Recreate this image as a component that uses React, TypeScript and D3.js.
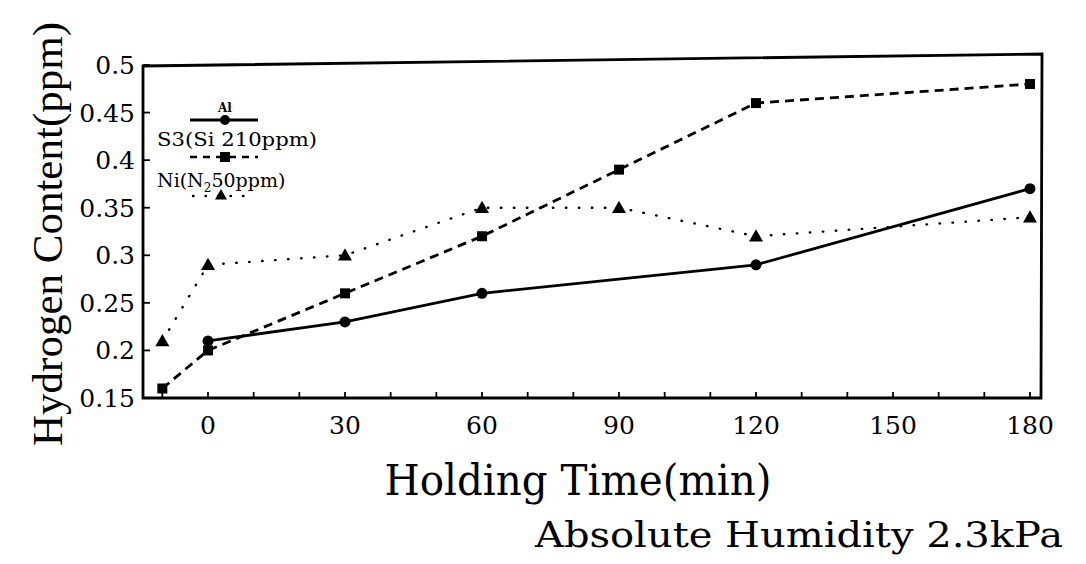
import React from "react";
import * as d3 from "d3";

const timesAl = [0, 30, 60, 120, 180];
const valuesAl = [0.21, 0.23, 0.26, 0.29, 0.37];
const timesS3 = [-10, 0, 30, 60, 90, 120, 180];
const valuesS3 = [0.16, 0.2, 0.26, 0.32, 0.39, 0.46, 0.48];
const timesNi = [-10, 0, 30, 60, 90, 120, 180];
const valuesNi = [0.21, 0.29, 0.3, 0.35, 0.35, 0.32, 0.34];
const xTickValues = [0, 30, 60, 90, 120, 150, 180];
const yTickValues = [0.15, 0.2, 0.25, 0.3, 0.35, 0.4, 0.45, 0.5];
const yTickLabels = ["0.15", "0.2", "0.25", "0.3", "0.35", "0.4", "0.45", "0.5"];

const FONT = "'DejaVu Serif', 'Liberation Serif', serif";
const FONT2 = "'Liberation Serif', 'DejaVu Serif', serif";

export default function App() {
  const left = 143, right = 1041, bottom = 398;
  const x = d3.scaleLinear().domain([0, 180]).range([208, 1030]);
  const y = d3.scaleLinear().domain([0.15, 0.5]).range([bottom, 65]);
  const line = d3.line<[number, number]>().x(d => x(d[0])).y(d => y(d[1]));
  const al: [number, number][] = timesAl.map((t, i) => [t, valuesAl[i]]);
  const s3: [number, number][] = timesS3.map((t, i) => [t, valuesS3[i]]);
  const ni: [number, number][] = timesNi.map((t, i) => [t, valuesNi[i]]);
  const minor = d3.range(-10, 181, 10);
  const tri = (cx: number, cy: number, s = 7) =>
    `M${cx},${cy - s} L${cx + s},${cy + s * 0.75} L${cx - s},${cy + s * 0.75} Z`;

  return (
    <svg width={1086} height={564} style={{ display: "block", position: "absolute", left: 0, top: 0 }}>
      <rect width={1086} height={564} fill="#fff" />
      {/* frame (slightly skewed top edge as in the scan) */}
      <path d={`M${left},${bottom} L${left},66 L${right + 1},54 L${right},${bottom} Z`} fill="none" stroke="#000" strokeWidth={2.8} />
      {/* x ticks */}
      {minor.map(t => (
        <line key={"xt" + t} x1={x(t)} x2={x(t)} y1={bottom} y2={bottom - 6} stroke="#000" strokeWidth={1.8} />
      ))}
      {xTickValues.map(t => (
        <text key={"xl" + t} x={x(t)} y={434} fontFamily={FONT} fontSize={25} textAnchor="middle">{t}</text>
      ))}
      {/* y ticks */}
      {yTickValues.map((v, i) => (
        <g key={"yt" + i}>
          <line x1={left} x2={left + 7} y1={y(v)} y2={y(v)} stroke="#000" strokeWidth={1.8} />
          <text x={135} y={y(v) + 9} fontFamily={FONT} fontSize={25} textAnchor="end">{yTickLabels[i]}</text>
        </g>
      ))}
      {/* series */}
      <path d={line(ni) || ""} fill="none" stroke="#000" strokeWidth={2.4} strokeDasharray="0.5 12.5" strokeLinecap="round" />
      <path d={line(s3) || ""} fill="none" stroke="#000" strokeWidth={2.8} strokeDasharray="9 6" />
      <path d={line(al) || ""} fill="none" stroke="#000" strokeWidth={2.8} />
      {al.map((d, i) => <circle key={"c" + i} cx={x(d[0])} cy={y(d[1])} r={5.5} fill="#000" />)}
      {s3.map((d, i) => <rect key={"s" + i} x={x(d[0]) - 5} y={y(d[1]) - 5} width={10} height={10} fill="#000" />)}
      {ni.map((d, i) => <path key={"t" + i} d={tri(x(d[0]), y(d[1]))} fill="#000" />)}
      {/* legend */}
      <text x={225} y={112} fontFamily={FONT} fontSize={12} fontWeight="bold" textAnchor="middle">Al</text>
      <line x1={190} x2={258} y1={120} y2={120} stroke="#000" strokeWidth={2.8} />
      <circle cx={225} cy={120} r={5} fill="#000" />
      <text x={157} y={146} fontFamily={FONT} fontSize={19} textLength={160} lengthAdjust="spacingAndGlyphs">S3(Si 210ppm)</text>
      <line x1={190} x2={258} y1={157} y2={157} stroke="#000" strokeWidth={2.6} strokeDasharray="7 6" />
      <rect x={220} y={152} width={10} height={10} fill="#000" />
      <text x={157} y={187} fontFamily={FONT} fontSize={19}>
        Ni(N<tspan fontSize={12} dy={5}>2</tspan><tspan dy={-5}>50ppm)</tspan>
      </text>
      <line x1={193} x2={252} y1={196} y2={196} stroke="#000" strokeWidth={2.4} strokeDasharray="0.5 12" strokeLinecap="round" />
      <path d={tri(221, 195, 6)} fill="#000" />
      {/* axis titles */}
      <text transform="translate(62,234) rotate(-90)" fontFamily={FONT2} fontSize={43} textAnchor="middle">Hydrogen Content(ppm)</text>
      <text x={578} y={495} fontFamily={FONT} fontSize={42} textAnchor="middle"
        textLength={387} lengthAdjust="spacingAndGlyphs">Holding Time(min)</text>
      <text x={799} y={547} fontFamily={FONT} fontSize={36} textAnchor="middle"
        textLength={528} lengthAdjust="spacingAndGlyphs">Absolute Humidity 2.3kPa</text>
    </svg>
  );
}
